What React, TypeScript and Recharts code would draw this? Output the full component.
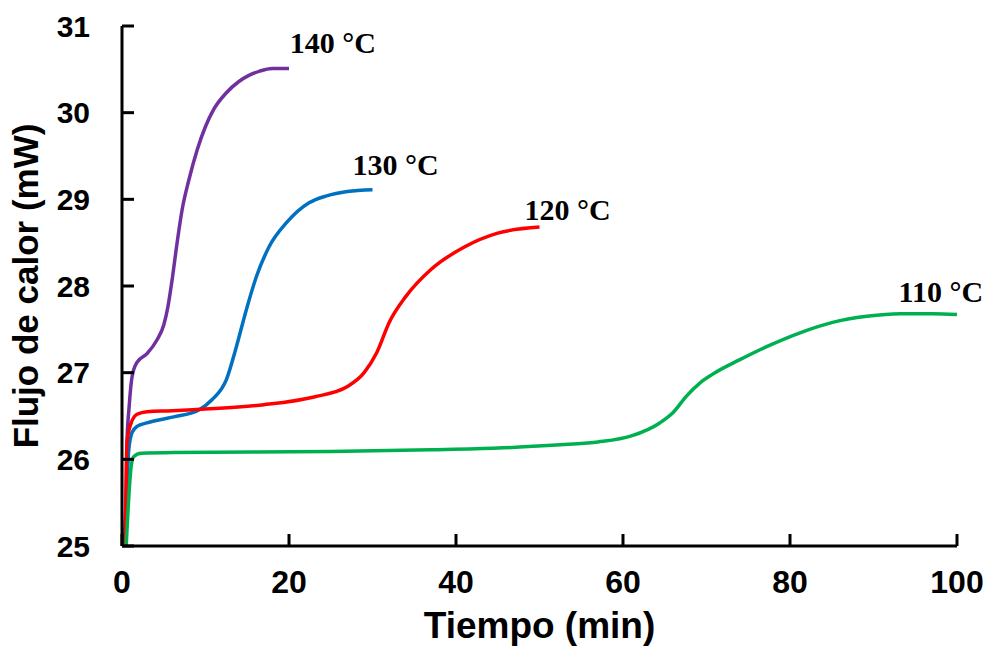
import React from "react";
import { LineChart, Line, XAxis, YAxis, ReferenceDot } from "recharts";

// Time (min) and heat flow (mW) per isotherm
const t140 = [0.2, 0.5, 0.6, 0.85, 1.2, 1.8, 3.0, 4.2, 5.0, 5.5, 6.0, 6.6, 7.2, 8.0, 9.0, 10.0, 11.0, 12.5, 14.0, 15.2, 16.5, 18, 20];
const v140 = [25, 25.65, 26.2, 26.6, 26.95, 27.12, 27.22, 27.38, 27.55, 27.76, 28.07, 28.5, 28.88, 29.22, 29.57, 29.84, 30.04, 30.23, 30.36, 30.43, 30.48, 30.51, 30.51];

const t130 = [0.4, 0.8, 1.2, 1.8, 3, 4.7, 6.2, 9.2, 10.8, 12.5, 13.7, 14.9, 16.1, 17.6, 19.7, 22.4, 24.5, 27, 30];
const v130 = [25, 26.1, 26.31, 26.38, 26.42, 26.46, 26.49, 26.57, 26.69, 26.92, 27.3, 27.73, 28.11, 28.45, 28.73, 28.96, 29.04, 29.09, 29.11];

const t120 = [0.4, 0.6, 1.1, 1.8, 3, 6, 10, 17, 23, 27, 29, 30.5, 32, 34, 37, 41, 45, 50];
const v120 = [25, 26.2, 26.42, 26.52, 26.55, 26.56, 26.58, 26.63, 26.72, 26.84, 27.0, 27.23, 27.58, 27.88, 28.19, 28.45, 28.61, 28.68];

const t110 = [0.5, 1.1, 1.4, 2.3, 6.2, 25, 37, 45, 53, 57, 61, 64.4, 66, 67.6, 69.2, 70.7, 74, 77.2, 81.2, 85.1, 89.2, 93.2, 97.1, 100];
const v110 = [25, 25.92, 26.03, 26.07, 26.08, 26.09, 26.11, 26.13, 26.17, 26.2, 26.27, 26.42, 26.54, 26.73, 26.88, 26.98, 27.15, 27.3, 27.46, 27.58, 27.65, 27.68, 27.68, 27.67];

const xTicks = [0, 20, 40, 60, 80, 100];
const yTicks = [25, 26, 27, 28, 29, 30, 31];

const seriesNames = ["140 °C", "130 °C", "120 °C", "110 °C"];
const seriesColors = ["#7030A0", "#0070C0", "#FF0000", "#00B050"];
const labelX = [20.1, 27.6, 48.2, 93.0];
const labelY = [30.69, 29.28, 28.76, 27.81];

const build = (ts: number[], vs: number[]) => ts.map((t, i) => ({ t, v: vs[i] }));
const seriesData = [build(t140, v140), build(t130, v130), build(t120, v120), build(t110, v110)];

const SANS = "'Liberation Sans', Arial, sans-serif";
const SERIF = "'Liberation Serif', 'Times New Roman', serif";

export default function App() {
  return (
    <div style={{ position: "absolute", left: 0, top: 0, background: "#fff" }}>
      <LineChart width={989} height={650} margin={{ top: 26, right: 32, bottom: 0, left: 0 }}>
        <XAxis
          type="number"
          dataKey="t"
          domain={[0, 100]}
          ticks={xTicks}
          allowDataOverflow
          height={104}
          axisLine={{ stroke: "#000", strokeWidth: 3 }}
          tickLine={{ stroke: "#000", strokeWidth: 3 }}
          tickSize={-12}
          tickMargin={36}
          tick={{ fill: "#000", fontSize: 32, fontWeight: 700, fontFamily: SANS }}
          label={{
            content: (p: any) => {
              const vb = p.viewBox;
              return (
                <text x={vb.x + vb.width / 2} y={vb.y + 92} textAnchor="middle" fill="#000"
                  style={{ fontSize: 37, fontWeight: 700, fontFamily: SANS }}>
                  Tiempo (min)
                </text>
              );
            },
          }}
        />
        <YAxis
          type="number"
          domain={[25, 31]}
          ticks={yTicks}
          allowDataOverflow
          width={122}
          axisLine={{ stroke: "#000", strokeWidth: 3 }}
          tickLine={{ stroke: "#000", strokeWidth: 3 }}
          tickSize={-12}
          tickMargin={44}
          tick={{ fill: "#000", fontSize: 30, fontWeight: 700, fontFamily: SANS }}
          label={{
            content: (p: any) => {
              const vb = p.viewBox;
              const cx = vb.x + 38;
              const cy = vb.y + vb.height / 2;
              return (
                <text x={cx} y={cy} transform={`rotate(-90, ${cx}, ${cy})`} textAnchor="middle" fill="#000"
                  style={{ fontSize: 35, fontWeight: 700, fontFamily: SANS }}>
                  Flujo de calor (mW)
                </text>
              );
            },
          }}
        />
        {seriesData.map((d, i) => (
          <Line
            key={seriesNames[i]}
            data={d}
            dataKey="v"
            type="monotone"
            stroke={seriesColors[i]}
            strokeWidth={3.5}
            dot={false}
            activeDot={false}
            isAnimationActive={false}
          />
        ))}
        {seriesNames.map((name, i) => (
          <ReferenceDot
            key={"lbl" + i}
            x={labelX[i]}
            y={labelY[i]}
            r={0}
            shape={(p: any) => (
              <text x={p.cx} y={p.cy} fill="#000"
                style={{ fontSize: 30, fontWeight: 700, fontFamily: SERIF }}>
                {name}
              </text>
            )}
          />
        ))}
      </LineChart>
    </div>
  );
}
